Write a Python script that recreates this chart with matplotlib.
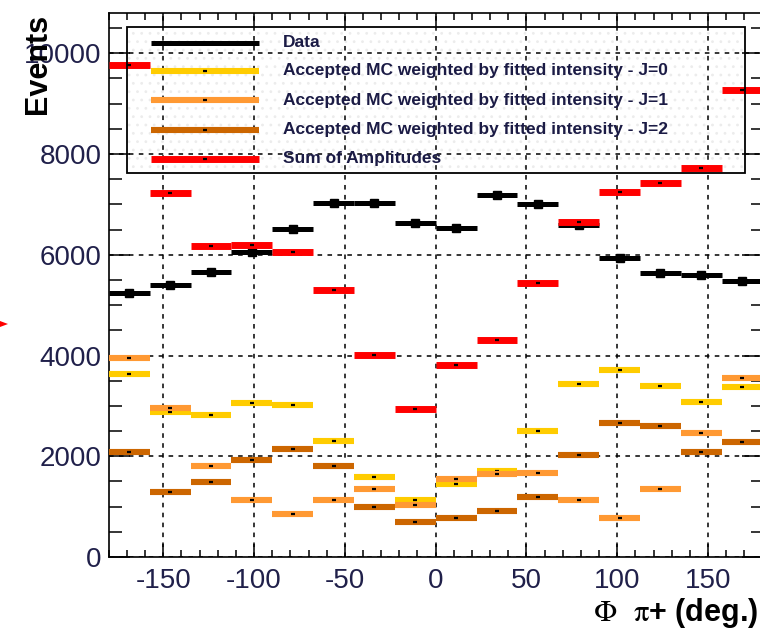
import numpy as np
import matplotlib
matplotlib.use('Agg')
import matplotlib.pyplot as plt
from matplotlib.ticker import MultipleLocator
from matplotlib.patches import Rectangle, Polygon
from matplotlib.lines import Line2D

plt.rcParams['font.family'] = ['Liberation Sans', 'DejaVu Sans']
plt.rcParams['mathtext.fontset'] = 'stix'
plt.rcParams['axes.unicode_minus'] = False
plt.rcParams['hatch.linewidth'] = 0.8

# 16 bins of 22.5 degrees in Phi(pi+)
bin_edges = np.linspace(-180, 180, 17)
bin_centers = 0.5 * (bin_edges[:-1] + bin_edges[1:])

data_counts = [5250, 5400, 5650, 6050, 6520, 7020, 7020, 6630,
               6530, 7190, 7000, 6590, 5940, 5640, 5600, 5480]
mc_j0 = [3630, 2870, 2820, 3050, 3010, 2310, 1590, 1130,
         1440, 1710, 2510, 3430, 3720, 3400, 3080, 3370]
mc_j1 = [3950, 2960, 1800, 1130, 850, 1130, 1350, 1030,
         1540, 1640, 1670, 1130, 770, 1350, 2470, 3560]
mc_j2 = [2090, 1290, 1480, 1930, 2150, 1800, 990, 700,
         780, 910, 1190, 2020, 2660, 2600, 2080, 2280]
amp_sum = [9760, 7230, 6180, 6200, 6060, 5310, 4010, 2930,
           3820, 4300, 5440, 6660, 7240, 7430, 7720, 9280]

legend_labels = ['Data',
                 'Accepted MC weighted by fitted intensity - J=0',
                 'Accepted MC weighted by fitted intensity - J=1',
                 'Accepted MC weighted by fitted intensity - J=2',
                 'Sum of Amplitudes']
colors = ['black', '#FFCC00', '#FF9933', '#CC6600', '#FF0000']
widths = [3.6, 4.4, 4.4, 4.4, 5.0]

W, H = 760, 630
fig = plt.figure(figsize=(W / 100, H / 100), dpi=100)
ax = fig.add_axes([108.8 / W, 73 / H, 653.7 / W, 544 / H])
ax.patch.set_visible(False)


def fx(px):
    return px / W


def fy(py):
    return 1 - py / H


series = [data_counts, mc_j0, mc_j1, mc_j2, amp_sum]
for i, (vals, c, lw) in enumerate(zip(series, colors, widths)):
    ax.hlines(vals, bin_edges[:-1], bin_edges[1:], colors=c, lw=lw,
              capstyle='butt', zorder=3 + i)
    if i == 0:
        ax.plot(bin_centers, vals, ls='none', marker='s', ms=5.5,
                color='black', zorder=3)
    else:
        ax.plot(bin_centers, vals, ls='none', marker='_', ms=3.5, mew=1.6,
                color='black', zorder=3 + i)

ax.set_xlim(-180, 180)
ax.set_ylim(0, 10800)
ax.xaxis.set_major_locator(MultipleLocator(50))
ax.xaxis.set_minor_locator(MultipleLocator(10))
ax.yaxis.set_major_locator(MultipleLocator(2000))
ax.yaxis.set_minor_locator(MultipleLocator(500))

ax.grid(True, which='major', color='black', lw=1.1, linestyle=(0, (3, 3.5)))
ax.set_axisbelow(True)

tick_color = '#20204a'
ax.tick_params(axis='x', which='major', direction='in', top=True, length=9.5,
               width=1.1, pad=8, labelsize=20, labelcolor=tick_color)
ax.tick_params(axis='x', which='minor', direction='in', top=True, length=5,
               width=1.1)
ax.tick_params(axis='y', which='major', direction='in', right=True, length=15,
               width=1.1, pad=5, labelsize=20, labelcolor=tick_color)
ax.tick_params(axis='y', which='minor', direction='in', right=True, length=9,
               width=1.1)
for s in ax.spines.values():
    s.set_linewidth(1.2)

# legend box: transparent, faint dotted fill behind the plotted data
lx0, ly0, lx1, ly1 = 127.3, 26.7, 745, 173.3
fig.add_artist(Rectangle((fx(lx0), fy(ly1)), fx(lx1 - lx0), (ly1 - ly0) / H,
                         fill=False, hatch='..', edgecolor='#ececec', lw=0,
                         zorder=-1))
fig.add_artist(Rectangle((fx(lx0), fy(ly1)), fx(lx1 - lx0), (ly1 - ly0) / H,
                         fill=False, edgecolor='black', lw=1.3, zorder=10))
row_y = [42.7, 70.7, 100.3, 130.0, 159.0]
for lab, c, lw, ry in zip(legend_labels, colors, widths, row_y):
    fig.add_artist(Line2D([fx(150.7), fx(259.3)], [fy(ry), fy(ry)], color=c,
                          lw=lw, solid_capstyle='butt', zorder=11))
    if c != 'black':
        fig.add_artist(Line2D([fx(205)], [fy(ry)], ls='none', marker='_',
                              ms=3.5, mew=1.6, color='black', zorder=12))
    fig.text(fx(282.7), fy(ry), lab, fontsize=12.5, weight='bold',
             color='#1b1b45', va='center', ha='left', zorder=12)

fig.text(fx(38), fy(64), 'Events', rotation=90, fontsize=22, weight='bold',
         ha='center', va='center')
fig.text(fx(758), fy(613), r'$\Phi$  $\mathrm{\pi}$+ (deg.)', fontsize=22,
         weight='bold', ha='right', va='center')

# small red arrow at the left margin
fig.add_artist(Polygon([(fx(0), fy(321)), (fx(8), fy(324)), (fx(0), fy(327))],
                       closed=True, color='red', lw=0))

fig.savefig('out.png', dpi=100)
